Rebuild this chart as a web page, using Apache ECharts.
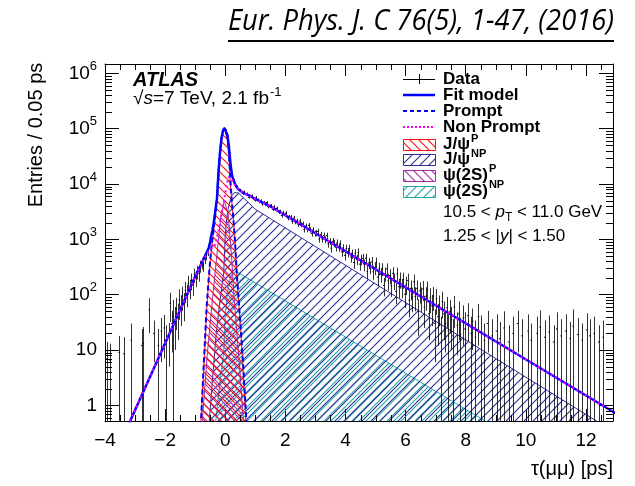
<!DOCTYPE html>
<html><head><meta charset="utf-8">
<script src="https://cdn.jsdelivr.net/npm/echarts@6/dist/echarts.min.js"></script>
<style>html,body{margin:0;padding:0;background:#fff}#c{width:635px;height:486px}</style>
</head><body><div id="c"></div>
<script>
// ---------------- axis ranges / labels ----------------
const X_MIN = -4, X_MAX = 12.9, Y_MIN = 0.52, Y_MAX = 1.48e6, BIN = 0.05;
const xMinorTicks = [-3.5,-3,-2.5,-1.5,-1,-0.5,0.5,1,1.5,2.5,3,3.5,4.5,5,5.5,6.5,7,7.5,8.5,9,9.5,10.5,11,11.5,12.5];
const yMinorMult = [2,3,4,5,6,7,8,9];
const yDecades = [0.1,1,10,100,1000,10000,100000];

// ---------------- model curves ----------------
const fitTau = [-3.3,-1.0,-0.775,-0.55,-0.5,-0.475,-0.425,-0.375,-0.325,-0.275,-0.225,-0.175,-0.125,-0.075,-0.025,0.025,0.075,0.125,0.175,0.225,0.275,0.325,0.375,0.425,0.5,0.6,0.8,1.0,1.25,1.5,13.0];
const fitVal = [0.355,214,380,700,900,1100,1450,2140,3390,5500,16000,37000,66000,93000,102000,98000,76000,46000,23000,14500,11700,10000,8900,8130,7600,6900,6200,5370,4600,3960,0.71];

const npTau = [-3.3,-1.0,-0.775,-0.55,-0.45,-0.33,-0.22,-0.166,-0.056,0.055,0.11,0.2,0.3,0.41,0.5,0.6,0.8,1.0,1.25,1.5,13.0];
const npVal = [0.355,214,380,620,700,800,1500,2200,4500,10000,13500,12500,10000,8300,7600,6900,6200,5370,4600,3960,0.71];

const promptTau = [-0.85,-0.8,-0.7,-0.62,-0.55,-0.475,-0.425,-0.375,-0.325,-0.275,-0.225,-0.175,-0.125,-0.075,-0.025,0.025,0.075,0.125,0.175,0.225,0.275,0.325,0.39,0.5,0.6,0.7,0.75];
const promptVal = [0.3,0.6,8,60,200,600,1000,1700,3000,5200,15500,36000,65000,92000,101000,96000,70000,36000,11000,4500,2200,900,220,32,5,0.55,0.3];

const jpsiPTau = [-0.85,-0.81,-0.7,-0.62,-0.55,-0.475,-0.425,-0.375,-0.325,-0.275,-0.225,-0.175,-0.125,-0.075,-0.025,0.025,0.075,0.125,0.166,0.225,0.28,0.33,0.39,0.5,0.6,0.69,0.73];
const jpsiPVal = [0.3,0.52,7,50,190,560,950,1600,2900,5000,15000,35000,63000,89000,98000,93000,68000,35000,10000,4200,2100,900,190,30,4,0.52,0.3];

const jpsiNPTau = [-0.6,-0.53,-0.45,-0.3,-0.15,-0.05,0.0,0.05,0.1,0.2,0.3,0.44,1.0,12.4,12.6];
const jpsiNPVal = [0.3,0.52,2,20,100,250,1200,2400,3600,6000,7000,6900,3500,0.5,0.4];

const psi2sPTau = [-0.8,-0.78,-0.6,-0.45,-0.3,-0.15,-0.03,0.1,0.2,0.3,0.45,0.62,0.66];
const psi2sPVal = [0.3,0.4,8,60,400,2500,5000,2800,600,80,8,0.4,0.3];

const psi2sNPTau = [-0.35,-0.32,-0.15,-0.05,0.0,0.1,0.2,0.36,8.7,8.9];
const psi2sNPVal = [0.3,0.5,3.5,9,45,140,230,265,0.5,0.4];

// ---------------- data (weighted entries per 0.05 ps) ----------------
// sparse negative tail
const negTau = [-3.925,-3.825,-3.525,-3.375,-3.125,-2.775,-2.725,-2.525,-2.375,-2.225,-2.125,-2.025,-1.975,-1.875,-1.825,-1.775,-1.725,-1.675,-1.625,-1.575,-1.525,-1.475,-1.425,-1.375,-1.325,-1.275,-1.225,-1.175,-1.125,-1.075,-1.025,-0.975,-0.925,-0.875,-0.825,-0.775,-0.725,-0.675,-0.625,-0.575,-0.525];
const negVal = [7,6.5,9,8.5,15,12,13,53,20,12,22,25,14,18,70,30,40,35,55,42,80,62,95,70,120,105,160,135,180,150,230,200,260,240,330,370,340,450,520,610,800];
const negErr = [7,6.5,9,8.5,15,12,13,33,14,12,16,18,14,13,38,21,40,25,32,27,45,35,44,37,50,46,60,52,60,55,68,63,72,69,81,86,82,95,102,110,126];
// contiguous bins from -0.475 to 6.975
const mainStart = -0.475;
const mainVal = [1150,1390,2210,3300,5650,16200,36500,67000,92000,103000,97000,77000,45500,23500,14200,11900,9900,9100,7950,7800,
7530,6780,7225,6540,6645,5785,6105,6165,5495,5140,5740,5185,4820,5015,4375,4660,4350,4600,3920,4000,
4058,3497,3878,3446,3657,3118,3200,2691,3068,2766,
3013,2427,2536,2530,2115,2437,2081,2144,1866,2149,
1842,1906,1502,1736,1511,1789,1485,1279,1494,1278,
1310,1387,1016,1217,1011,1175,991,1166,836,925,
693,923,852,721,866,715,831,594,696,514,
680,581,686,477,550,380,559,434,578,356,
432,453,349,456,263,376,314,390,259,303,
382,207,300,233,294,147,240,292,178,222,
145,243,181,115,238,139,190,139,188,102,
155,180,79,130,91,172,93,130,50,118,
92,127,60,94,123,45,88,63,94,30];
const mainErr = [150,167,210,257,336,570,855,1160,1360,1435,1390,1240,950,685,533,488,445,427,400,395,
388,368,380,362,365,340,350,351,331,321,339,322,310,317,296,305,295,303,280,283,
285,264,278,262,270,250,253,232,248,235,
245,220,225,225,206,221,204,207,193,207,
192,195,173,186,174,189,172,160,173,160,
162,167,143,156,142,153,141,153,129,136,
118,136,131,120,132,120,129,109,118,101,
117,108,117,98,105,87,106,93,108,84,
93,95,84,95,73,87,79,88,72,78,
87,64,77,68,77,54,69,76,60,67,
54,70,60,48,69,53,62,53,61,45,
56,60,40,51,43,59,43,51,32,49,
43,50,35,43,50,30,42,36,43,24];
// sparse positive tail
const tailTau = [7.025,7.075,7.125,7.175,7.225,7.275,7.325,7.375,7.425,7.475,7.525,7.575,7.625,7.725,7.775,7.825,7.925,7.975,8.075,8.175,8.225,8.325,8.425,8.525,8.625,8.725,8.875,9.025,9.125,9.275,9.425,9.575,9.725,9.875,10.075,10.175,10.375,10.475,10.625,10.775,10.925,11.025,11.175,11.325,11.475,11.575,11.725,11.875,12.025,12.125,12.275,12.425,12.575];
const tailVal = [85,40,62,20,75,45,30,58,22,50,35,18,60,28,45,19,38,24,42,20,33,17,40,21,15,30,18,22,16,25,14,20,30,18,22,15,20,26,17,21,14,24,18,22,16,27,19,15,23,18,20,14,17];
const tailErr = [42,28,35,20,38,30,21,33,22,30,25,18,35,20,30,19,26,24,28,20,23,17,28,21,15,21,18,22,16,25,14,20,21,18,22,15,20,26,17,21,14,24,18,22,16,27,19,15,23,18,20,14,17];

// ---------------- texts ----------------
const yTitle = 'Entries / 0.05 ps';
const xTitle = 'τ(μμ) [ps]';
const refText = 'Eur. Phys. J. C 76(5), 1-47, (2016)';

// ---------------- build ----------------
const FONT = '"Liberation Sans", Arial, Helvetica, sans-serif';
function zip(a, b) { return a.map((t, i) => [t, b[i]]); }
const dataPts = [];
negTau.forEach((t, i) => dataPts.push([t, negVal[i], negErr[i]]));
mainVal.forEach((v, i) => dataPts.push([+(mainStart + i * BIN).toFixed(3), v, mainErr[i]]));
tailTau.forEach((t, i) => dataPts.push([t, tailVal[i], tailErr[i]]));

function hatch(color, dir, size, lw, shift) {
  const c = document.createElement('canvas');
  c.width = size; c.height = size;
  const g = c.getContext('2d');
  g.strokeStyle = color; g.lineWidth = lw;
  g.translate(shift || 0, 0);
  g.beginPath();
  for (let k = -2; k <= 2; k++) {
    const o = k * size;
    if (dir === '/') { g.moveTo(o - 1, size + 1); g.lineTo(o + size + 1, -1); }
    else { g.moveTo(o - 1, -1); g.lineTo(o + size + 1, size + 1); }
  }
  g.stroke();
  return { image: c, repeat: 'repeat' };
}
const C_RED = '#ff1010', C_NAVY = '#2c2c9a', C_PURPLE = '#a52aa5', C_TEAL = '#20a5a5', C_BLUE = '#0000ff', C_MAG = '#ff00ff';
const comps = [
  { name: 'psi2sNP', tau: psi2sNPTau, val: psi2sNPVal, color: C_TEAL, dir: '/', size: 7, shift: 3 },
  { name: 'jpsiNP', tau: jpsiNPTau, val: jpsiNPVal, color: C_NAVY, dir: '/', size: 9, shift: 0 },
  { name: 'psi2sP', tau: psi2sPTau, val: psi2sPVal, color: C_PURPLE, dir: '\\', size: 7, shift: 3 },
  { name: 'jpsiP', tau: jpsiPTau, val: jpsiPVal, color: C_RED, dir: '\\', size: 8, shift: 0 }
];

const series = [];
comps.forEach((c, i) => {
  series.push({
    type: 'line', name: c.name, data: zip(c.tau, c.val), showSymbol: false, symbol: 'none',
    lineStyle: { color: c.color, width: 1 }, z: 2 + i,
    areaStyle: { origin: 'start', color: hatch(c.color, c.dir, c.size, 1.1, c.shift), opacity: 1 }
  });
});
series.push({
  type: 'custom', name: 'Data', coordinateSystem: 'cartesian2d', clip: true, z: 10,
  data: dataPts, encode: { x: 0, y: 1 },
  renderItem: function (params, api) {
    const t = api.value(0), v = api.value(1), e = api.value(2);
    const pc = api.coord([t, v]);
    const top = api.coord([t, Math.min(v + e, Y_MAX)])[1];
    const lo = v - e;
    const bot = lo > Y_MIN ? api.coord([t, lo])[1] : api.coord([t, Y_MIN])[1];
    const xl = api.coord([t - BIN / 2, v])[0], xr = api.coord([t + BIN / 2, v])[0];
    const x = Math.round(pc[0]) + 0.5;
    return { type: 'group', children: [
      { type: 'line', shape: { x1: x, y1: top, x2: x, y2: bot }, style: { stroke: '#000', lineWidth: 1, opacity: 0.8 } },
      { type: 'line', shape: { x1: xl, y1: pc[1], x2: xr, y2: pc[1] }, style: { stroke: '#000', lineWidth: 1 } }
    ] };
  }
});
series.push({ type: 'line', name: 'Fit model', data: zip(fitTau, fitVal), showSymbol: false, symbol: 'none', z: 20,
  lineStyle: { color: C_BLUE, width: 2.5 } });
series.push({ type: 'line', name: 'Prompt', data: zip(promptTau, promptVal), showSymbol: false, symbol: 'none', z: 21,
  lineStyle: { color: C_BLUE, width: 2, type: [5, 3] } });
series.push({ type: 'line', name: 'Non Prompt', data: zip(npTau, npVal), showSymbol: false, symbol: 'none', z: 22,
  lineStyle: { color: C_MAG, width: 2, type: [2, 3] } });

// minor ticks (ROOT style log minor ticks)
const yMinor = [];
yDecades.forEach(d => yMinorMult.forEach(m => { const v = m * d; if (v > Y_MIN && v < Y_MAX) yMinor.push(+v.toPrecision(3)); }));
series.push({
  type: 'custom', name: 'yminor', silent: true, clip: false, z: 30,
  data: yMinor.map(v => [X_MIN, v]), encode: { x: 0, y: 1 },
  renderItem: function (p, api) {
    const v = api.value(1);
    const l = api.coord([X_MIN, v]), r = api.coord([X_MAX, v]);
    const y = Math.round(l[1]) + 0.5;
    return { type: 'group', children: [
      { type: 'line', shape: { x1: l[0], y1: y, x2: l[0] + 7, y2: y }, style: { stroke: '#000', lineWidth: 1 } },
      { type: 'line', shape: { x1: r[0], y1: y, x2: r[0] - 7, y2: y }, style: { stroke: '#000', lineWidth: 1 } }
    ] };
  }
});
series.push({
  type: 'custom', name: 'xminor', silent: true, clip: false, z: 30,
  data: xMinorTicks.map(t => [t, Y_MIN]), encode: { x: 0, y: 1 },
  renderItem: function (p, api) {
    const t = api.value(0);
    const b = api.coord([t, Y_MIN]), tp = api.coord([t, Y_MAX]);
    const x = Math.round(b[0]) + 0.5;
    return { type: 'group', children: [
      { type: 'line', shape: { x1: x, y1: b[1], x2: x, y2: b[1] - 6 }, style: { stroke: '#000', lineWidth: 1 } },
      { type: 'line', shape: { x1: x, y1: tp[1], x2: x, y2: tp[1] + 6 }, style: { stroke: '#000', lineWidth: 1 } }
    ] };
  }
});

// ---------------- text graphics ----------------
const mctx = document.createElement('canvas').getContext('2d');
function tw(text, font) { mctx.font = font; return mctx.measureText(text).width; }
const g = [];
function txt(x, y, text, font, extra) {
  const o = { type: 'text', x: x, y: y, z: 100, style: Object.assign({ text: text, font: font, fill: '#000', align: 'left', verticalAlign: 'middle' }, extra || {}) };
  g.push(o); return o;
}
// reference header
const refFont = 'italic 29px "Open Sans", "Liberation Sans", sans-serif';
const refW = tw(refText, refFont), refTarget = 386, refSX = refTarget / refW;
g.push({ type: 'text', x: 228, y: 22, scaleX: refSX, z: 100, style: { text: refText, font: refFont, fill: '#000', align: 'left', verticalAlign: 'middle' } });
g.push({ type: 'line', z: 100, shape: { x1: 228, y1: 41, x2: 228 + refTarget, y2: 41 }, style: { stroke: '#000', lineWidth: 2 } });

// ATLAS label
txt(133, 80, 'ATLAS', 'italic bold 20px ' + FONT);
const f19 = '19px ' + FONT, f19i = 'italic 19px ' + FONT;
let xx = 133;
txt(xx, 99, '√', f19); xx += tw('√', f19);
txt(xx, 99, 's', f19i); xx += tw('s', f19i);
txt(xx, 99, '=7 TeV, 2.1 fb', f19); xx += tw('=7 TeV, 2.1 fb', f19);
txt(xx + 1, 92, '-1', '13px ' + FONT);

// axis titles
g.push({ type: 'text', x: 36, y: 135, rotation: Math.PI / 2, z: 100, style: { text: yTitle, font: '20px ' + FONT, fill: '#000', align: 'center', verticalAlign: 'middle' } });
txt(613, 469, xTitle, '20px ' + FONT, { align: 'right' });

// legend
const LX = 403, LW = 32, TX = 443;
const fb = 'bold 17px ' + FONT, fsup = 'bold 11px ' + FONT;
const rows = [79, 95, 111, 127, 144, 159, 175, 191];
const supDy = [0, 0, 0, 0, -5, -5, -6, -6];
const legendLabels = [['Data', ''], ['Fit model', ''], ['Prompt', ''], ['Non Prompt', ''], ['J/ψ', 'P'], ['J/ψ', 'NP'], ['ψ(2S)', 'P'], ['ψ(2S)', 'NP']];
legendLabels.forEach((l, i) => {
  const y = rows[i];
  txt(TX, y, l[0], fb);
  if (l[1]) txt(TX + tw(l[0], fb) + 1, y + supDy[i], l[1], fsup);
});
// icons
g.push({ type: 'line', z: 100, shape: { x1: LX, y1: rows[0] + 0.5, x2: LX + LW, y2: rows[0] + 0.5 }, style: { stroke: '#000', lineWidth: 1 } });
g.push({ type: 'line', z: 100, shape: { x1: LX + LW / 2 + 0.5, y1: rows[0] - 5, x2: LX + LW / 2 + 0.5, y2: rows[0] + 5 }, style: { stroke: '#000', lineWidth: 1 } });
g.push({ type: 'line', z: 100, shape: { x1: LX, y1: rows[1], x2: LX + LW, y2: rows[1] }, style: { stroke: C_BLUE, lineWidth: 2.5 } });
g.push({ type: 'line', z: 100, shape: { x1: LX, y1: rows[2], x2: LX + LW, y2: rows[2] }, style: { stroke: C_BLUE, lineWidth: 2, lineDash: [4, 3] } });
g.push({ type: 'line', z: 100, shape: { x1: LX, y1: rows[3], x2: LX + LW, y2: rows[3] }, style: { stroke: C_MAG, lineWidth: 2, lineDash: [2, 2] } });
const boxComps = [comps[3], comps[1], comps[2], comps[0]];
boxComps.forEach((c, i) => {
  const y = rows[4 + i];
  g.push({ type: 'rect', z: 100, shape: { x: LX + 0.5, y: Math.round(y - 5.5) + 0.5, width: LW, height: 11 },
    style: { fill: hatch(c.color, c.dir, 9, 1.1, 0), stroke: c.color, lineWidth: 1 } });
});
// kinematic ranges
const fr = '17px ' + FONT, fri = 'italic 17px ' + FONT, fsub = '12px ' + FONT;
xx = TX;
txt(xx, 212, '10.5 < ', fr); xx += tw('10.5 < ', fr);
txt(xx, 212, 'p', fri); xx += tw('p', fri);
txt(xx, 218, 'T', fsub); xx += tw('T', fsub);
txt(xx, 212, ' < 11.0 GeV', fr);
xx = TX;
txt(xx, 236, '1.25 < |', fr); xx += tw('1.25 < |', fr);
txt(xx, 236, 'y', fri); xx += tw('y', fri);
txt(xx, 236, '| < 1.50', fr);

// ---------------- chart ----------------
const chart = echarts.init(document.getElementById('c'), null, { renderer: 'canvas' });
const axisLine = { show: true, onZero: false, lineStyle: { color: '#000', width: 1 } };
chart.setOption({
  animation: false,
  backgroundColor: '#fff',
  grid: { left: 105, top: 64, right: 22, bottom: 65, containLabel: false, outerBoundsMode: 'none' },
  xAxis: [
    { type: 'value', min: X_MIN, max: X_MAX, interval: 2, position: 'bottom', axisLine: axisLine,
      axisTick: { show: true, inside: true, length: 12, lineStyle: { color: '#000' } },
      splitLine: { show: false },
      axisLabel: { show: true, color: '#000', fontSize: 19, fontFamily: FONT, margin: 10, showMaxLabel: false,
        formatter: v => (v < 0 ? '\u2212' + (-v) : '' + v) } },
    { type: 'value', min: X_MIN, max: X_MAX, interval: 2, position: 'top', axisLine: axisLine,
      axisTick: { show: true, inside: true, length: 12, lineStyle: { color: '#000' } },
      splitLine: { show: false }, axisLabel: { show: false } }
  ],
  yAxis: [
    { type: 'log', logBase: 10, min: Y_MIN, max: Y_MAX, position: 'left', axisLine: axisLine,
      axisTick: { show: true, inside: true, length: 14, lineStyle: { color: '#000' } },
      splitLine: { show: false },
      axisLabel: { show: true, color: '#000', fontSize: 19, fontFamily: FONT, margin: 8, showMinLabel: false, showMaxLabel: false,
        formatter: function (v) {
          const k = Math.round(Math.log10(v));
          if (k === 0) return '{b|1}';
          if (k === 1) return '{b|10}';
          return '{b|10}{s|' + k + '}';
        },
        rich: { b: { fontSize: 19, fontFamily: FONT, color: '#000' }, s: { fontSize: 13, fontFamily: FONT, color: '#000', padding: [0, 0, 14, 0] } } } },
    { type: 'log', logBase: 10, min: Y_MIN, max: Y_MAX, position: 'right', axisLine: axisLine,
      axisTick: { show: true, inside: true, length: 14, lineStyle: { color: '#000' } },
      splitLine: { show: false }, axisLabel: { show: false } }
  ],
  series: series,
  graphic: { elements: g }
});
</script>
</body></html>
